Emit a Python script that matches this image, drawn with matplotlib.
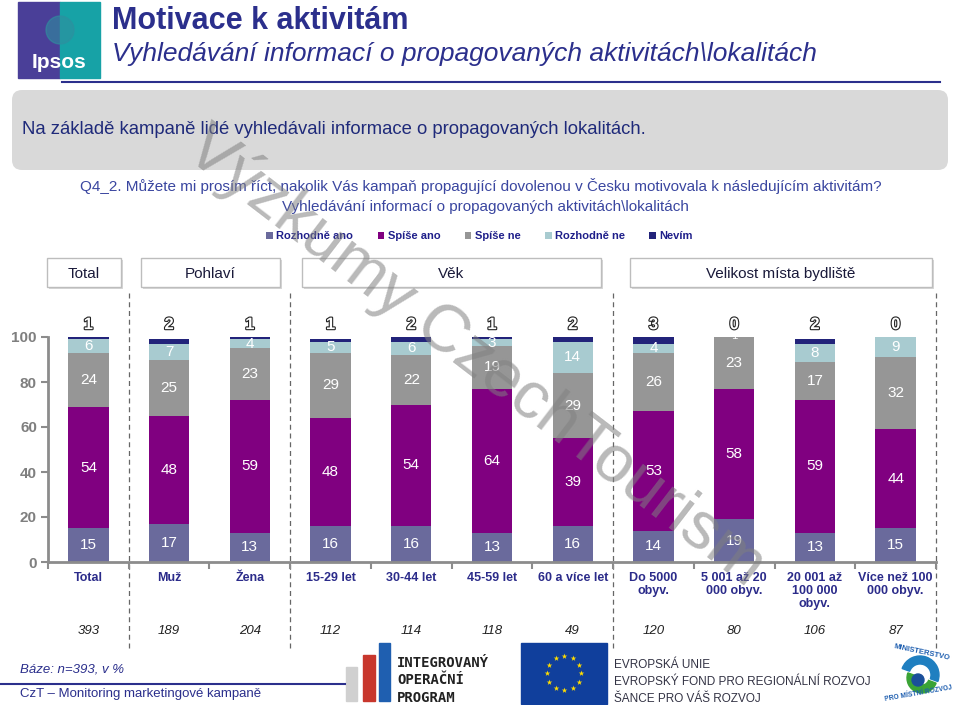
import numpy as np
import matplotlib
matplotlib.use("Agg")
import matplotlib.pyplot as plt
from matplotlib.patches import Rectangle, FancyBboxPatch, Circle, Wedge
import matplotlib.patheffects as pe
import matplotlib.transforms as mtrans

plt.rcParams['font.family'] = ['Liberation Sans', 'DejaVu Sans']

# --- data ---
categories = ["Total", "Muž", "Žena", "15-29 let", "30-44 let", "45-59 let",
              "60 a více let", "Do 5000\nobyv.", "5 001 až 20\n000 obyv.",
              "20 001 až\n100 000\nobyv.", "Více než 100\n000 obyv."]
rozhodne_ano = [15, 17, 13, 16, 16, 13, 16, 14, 19, 13, 15]
spise_ano = [54, 48, 59, 48, 54, 64, 39, 53, 58, 59, 44]
spise_ne = [24, 25, 23, 29, 22, 19, 29, 26, 23, 17, 32]
rozhodne_ne = [6, 7, 4, 5, 6, 3, 14, 4, 1, 8, 9]
nevim = [1, 2, 1, 1, 2, 1, 2, 3, 0, 2, 0]
base_n = [393, 189, 204, 112, 114, 118, 49, 120, 80, 106, 87]
series_names = ["Rozhodně ano", "Spíše ano", "Spíše ne", "Rozhodně ne", "Nevím"]
group_bounds = [0.5, 2.5, 6.5, 10.5]
group_titles = ["Total", "Pohlaví", "Věk", "Velikost místa bydliště"]

colors = ["#6a6a9c", "#800080", "#969696", "#a8cbd0", "#22237a"]
navy = "#2b2f8c"

W, H = 960, 705
fig = plt.figure(figsize=(W / 100, H / 100), dpi=100)

# overlay in pixel coords for the slide decorations
bg = fig.add_axes([0, 0, 1, 1], zorder=0)
bg.set_xlim(0, W)
bg.set_ylim(H, 0)
bg.axis("off")

# Ipsos logo
bg.add_patch(Rectangle((18, 2), 42, 76, color="#4a3f98"))
bg.add_patch(Rectangle((60, 2), 40, 76, color="#17a2a6"))
bg.add_patch(Circle((60, 30), 14, color="#2f8f9f", alpha=0.6))
bg.text(59, 62, "Ipsos", color="white", fontsize=15, fontweight="bold",
        ha="center", va="center")

bg.text(112, 21, "Motivace k aktivitám", color=navy, fontsize=22,
        fontweight="bold", va="center")
bg.text(112, 54, "Vyhledávání informací o propagovaných aktivitách\\lokalitách",
        color=navy, fontsize=19, style="italic", va="center")
bg.plot([62, 940], [82, 82], color=navy, lw=1.5)

bg.add_patch(FancyBboxPatch((12, 90), 936, 80, boxstyle="round,pad=0,rounding_size=10",
                            fc="#d9d9d9", ec="none"))
bg.text(22, 130, "Na základě kampaně lidé vyhledávali informace o propagovaných lokalitách.",
        color="#1f2a7a", fontsize=13.3, va="center")

qcol = "#3a46a0"
bg.text(80, 186, "Q4_2. Můžete mi prosím říct, nakolik Vás kampaň propagující dovolenou "
        "v Česku motivovala k následujícím aktivitám?", color=qcol, fontsize=11,
        va="center")
bg.text(485, 207, "Vyhledávání informací o propagovaných aktivitách\\lokalitách",
        color=qcol, fontsize=11, va="center", ha="center")

# group header boxes
boxes = [(47, 121), (141, 280), (302, 601), (630, 932)]
for (x0, x1), title in zip(boxes, group_titles):
    bg.add_patch(Rectangle((x0 + 2, 260), x1 - x0, 29, fc="#d8d8d8", ec="none"))
    bg.add_patch(Rectangle((x0, 258), x1 - x0, 29, fc="white", ec="#bdbdbd", lw=1))
    bg.text((x0 + x1) / 2, 274, title, fontsize=11, color="#1a1a3a",
            ha="center", va="center")

# footer
bg.text(20, 670, "Báze: n=393, v %", color=navy, fontsize=9.5, style="italic",
        va="center")
bg.plot([0, 345], [684, 684], color=navy, lw=1.5)
bg.text(20, 694, "CzT – Monitoring marketingové kampaně", color=navy, fontsize=9.5,
        va="center")

# IOP logo
bg.add_patch(Rectangle((346, 667), 11, 34, color="#d0d0d0"))
bg.add_patch(Rectangle((363, 655), 12, 46, color="#c8372d"))
bg.add_patch(Rectangle((379, 643), 11, 58, color="#1f5fb0"))
for i, t in enumerate(["INTEGROVANÝ", "OPERAČNÍ", "PROGRAM"]):
    bg.text(397, 663 + i * 17.5, t, fontsize=10, fontweight="bold", color="#222222",
            family="DejaVu Sans Mono", va="center")

# EU flag
bg.add_patch(Rectangle((521, 643), 86, 61, color="#103f9c"))
ang = np.linspace(0, 2 * np.pi, 13)[:-1]
bg.scatter(564 + 17 * np.cos(ang), 673 + 17 * np.sin(ang), marker="*", s=18,
           color="#ffdd00", lw=0)
for i, t in enumerate(["EVROPSKÁ UNIE", "EVROPSKÝ FOND PRO REGIONÁLNÍ ROZVOJ",
                       "ŠANCE PRO VÁŠ ROZVOJ"]):
    bg.text(614, 665 + i * 17, t, fontsize=8.5, color="#333344", va="center")

# ministry logo
bg.add_patch(Wedge((920, 675), 19, 200, 20, width=8, color="#1f7fc0"))
bg.add_patch(Wedge((922, 678), 15, 20, 200, width=8, color="#3aa335"))
bg.add_patch(Circle((918, 680), 6, color="#1a4f9a"))
bg.text(922, 652, "MINISTERSTVO", fontsize=5.5, color="#1f5fb0", ha="center",
        va="center", rotation=-12, fontweight="bold")
bg.text(918, 694, "PRO MÍSTNÍ ROZVOJ", fontsize=4.8, color="#1f5fb0", ha="center",
        va="center", rotation=10, fontweight="bold")

# --- main chart ---
ax = fig.add_axes([48 / W, (H - 562) / H, 888 / W, 225 / H], zorder=1)
ax.patch.set_alpha(0)
x = np.arange(len(categories))
series = [rozhodne_ano, spise_ano, spise_ne, rozhodne_ne, nevim]
bottom = np.zeros(len(categories))
handles = []
for k, (vals, col, name) in enumerate(zip(series, colors, series_names)):
    vals = np.array(vals, dtype=float)
    b = ax.bar(x, vals, 0.5, bottom=bottom, color=col, label=name, zorder=2)
    handles.append(b)
    if k < 4:
        for xi, v, b0 in zip(x, vals, bottom):
            if v > 0:
                ax.text(xi, b0 + v / 2, f"{int(v)}", color="white",
                        fontsize=11 if v > 2 else 8,
                        ha="center", va="center", zorder=3)
    bottom += vals

for xi, v in zip(x, nevim):
    ax.text(xi, 105.5, f"{v}", color="white", fontsize=12, ha="center",
            va="center", fontweight="bold", clip_on=False,
            path_effects=[pe.withStroke(linewidth=1.6, foreground="#222222")])

ax.set_xlim(-0.5, len(categories) - 0.5)
ax.set_ylim(0, 100)
ax.set_yticks([0, 20, 40, 60, 80, 100])
ax.set_xticks(np.arange(len(categories) + 1) - 0.5)
ax.set_xticklabels([])
ax.set_xticks(x, minor=True)
ax.set_xticklabels(categories, minor=True)
ax.tick_params(axis="x", which="minor", length=0, pad=7, labelsize=9,
               labelcolor="#2b2b8a")
for lab in ax.get_xticklabels(minor=True):
    lab.set_fontweight("bold")
    lab.set_linespacing(1.1)
ax.tick_params(axis="x", which="major", length=5, color="#8c8c8c", width=1.5)
ax.tick_params(axis="y", length=5, color="#8c8c8c", width=1.5, labelsize=11,
               labelcolor="#7f7f7f", pad=3)
for lab in ax.get_yticklabels():
    lab.set_fontweight("bold")
for s in ["top", "right"]:
    ax.spines[s].set_visible(False)
for s in ["left", "bottom"]:
    ax.spines[s].set_color("#8c8c8c")
    ax.spines[s].set_linewidth(2)

# dashed separators between groups
for gb in group_bounds:
    ax.axvline(gb, ymin=-0.38, ymax=1.21, color="#666666", lw=0.9,
               ls=(0, (4, 3)), clip_on=False, zorder=1)

# base sizes
trans = mtrans.blended_transform_factory(ax.transData, ax.transAxes)
for xi, n in zip(x, base_n):
    ax.text(xi, -0.307, f"{n}", transform=trans, fontsize=9.5, style="italic",
            color="#222222", ha="center", va="center")

leg = ax.legend(handles=handles, loc="center", bbox_to_anchor=(0.486, 1.449),
                ncol=5, frameon=False, fontsize=8, handlelength=0.6,
                handleheight=0.6, handletextpad=0.3, columnspacing=2.2)
for t in leg.get_texts():
    t.set_fontweight("bold")
    t.set_color("#1f1f8a")

# watermark
fig.text(475 / W, 1 - 358 / H, "Výzkumy CzechTourism", fontsize=48,
         color="#808080", alpha=0.55, rotation=-37.5, rotation_mode="anchor",
         ha="center", va="center", zorder=10)

fig.savefig("out.png", dpi=100)
